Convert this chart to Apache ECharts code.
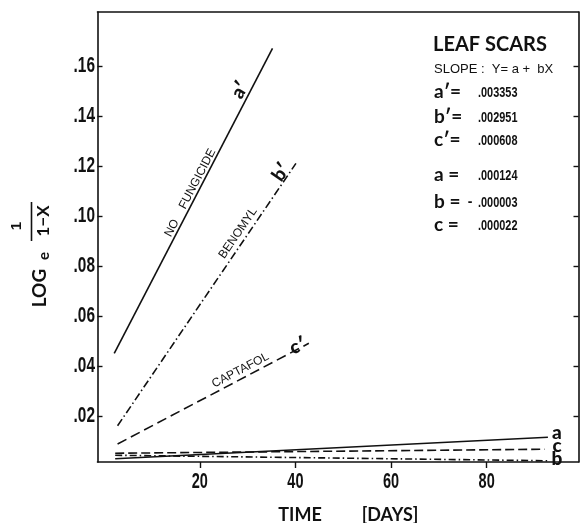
<!DOCTYPE html>
<html><head><meta charset="utf-8">
<script src="https://cdn.jsdelivr.net/npm/echarts@6/dist/echarts.min.js"></script>
<style>html,body{margin:0;padding:0;background:#fff}#c{width:580px;height:523px}</style>
</head><body><div id="c"></div>
<script>
// ---- data ----
const xTicks = [20, 40, 60, 80];
const yTicks = [0.02, 0.04, 0.06, 0.08, 0.10, 0.12, 0.14, 0.16];
const seriesNames = ["a'", "b'", "c'", "a", "b", "c"];
const aPrime = [[2.1, 0.045], [35.2, 0.167]];
const bPrime = [[2.8, 0.016], [40.1, 0.121]];
const cPrime = [[2.8, 0.0087], [42.8, 0.049]];
const aLow = [[2.3, 0.0028], [92.8, 0.0114]];
const bLow = [[2.3, 0.0042], [92.8, 0.0020]];
const cLow = [[2.3, 0.0050], [92.1, 0.0066]];
const lineLabels = ["NO    FUNGICIDE", "BENOMYL", "CAPTAFOL"];
const lineLabelPos = [[18.0, 0.1092], [28.0, 0.0931], [28.5, 0.0382]];
const lineLabelAngle = [62.5, 55.7, 27.7];
const curveTags = ["a′", "b′", "c′", "a", "c", "b"];
const curveTagPos = [[28.4, 0.1504], [37.0, 0.1175], [40.5, 0.0479], [94.7, 0.0131], [94.7, 0.0079], [94.7, 0.0027]];
const curveTagAngle = [60, 55, 20, 0, 0, 0];
const boxTitle = "LEAF SCARS";
const boxSubtitle = "SLOPE :  Y= a +  bX";
const slopeNames = ["a′=", "b′=", "c′=", "a =", "b =", "c ="];
const slopeValues = [".003353", ".002951", ".000608", ".000124", "-.000003", ".000022"];

// ---- chart ----
const el = document.getElementById('c');
const chart = echarts.init(el, null, {renderer: 'canvas'});
const INK = '#111';
const SANS = '"Liberation Sans",Arial,sans-serif';
const GEO = 'Lato,"Open Sans",sans-serif';
const XMIN = -1.4, XMAX = 99.2, YMIN = 0.0015, YMAX = 0.1816;

function mkLine(name, data, type) {
  return {
    name: name, type: 'line', data: data, symbol: 'none', animation: false,
    lineStyle: {color: INK, width: 1.6, type: type}, z: 3
  };
}

chart.setOption({
  backgroundColor: '#fff',
  animation: false,
  grid: {left: 97.5, right: 1.5, top: 12, bottom: 61, containLabel: false},
  xAxis: [{
    type: 'value', min: XMIN, max: XMAX, position: 'bottom',
    axisLine: {show: true, onZero: false, lineStyle: {color: INK, width: 1.6}},
    axisTick: {show: true, inside: false, length: 6, customValues: xTicks, lineStyle: {color: INK, width: 1.4}},
    axisLabel: {show: false},
    splitLine: {show: false}
  }, {
    type: 'value', min: XMIN, max: XMAX, position: 'top',
    axisLine: {show: true, onZero: false, lineStyle: {color: INK, width: 1.6}},
    axisTick: {show: false}, axisLabel: {show: false}, splitLine: {show: false}
  }],
  yAxis: [{
    type: 'value', min: YMIN, max: YMAX, position: 'left',
    axisLine: {show: true, onZero: false, lineStyle: {color: INK, width: 1.6}},
    axisTick: {show: true, inside: true, length: 5, customValues: yTicks, lineStyle: {color: INK, width: 1.4}},
    axisLabel: {show: false},
    splitLine: {show: false}
  }, {
    type: 'value', min: YMIN, max: YMAX, position: 'right',
    axisLine: {show: true, onZero: false, lineStyle: {color: INK, width: 1.6}},
    axisTick: {show: true, inside: true, length: 5, customValues: yTicks, lineStyle: {color: INK, width: 1.4}},
    axisLabel: {show: false}, splitLine: {show: false}
  }],
  series: [
    mkLine(seriesNames[0], aPrime, 'solid'),
    mkLine(seriesNames[1], bPrime, [8, 3, 1.5, 3]),
    mkLine(seriesNames[2], cPrime, [10, 5]),
    mkLine(seriesNames[3], aLow, 'solid'),
    mkLine(seriesNames[4], bLow, [7, 3, 1.5, 3]),
    mkLine(seriesNames[5], cLow, [9, 4])
  ]
});

const P = (p) => chart.convertToPixel({xAxisIndex: 0, yAxisIndex: 0}, p);
const D2R = Math.PI / 180;
const g = [];
// condensed tick labels (axis-driven positions)
xTicks.forEach(v => {
  const p = P([v, YMIN]);
  g.push({type: 'text', x: p[0], y: p[1] + 20, scaleX: 0.66,
    style: {text: String(v), fill: INK, font: 'bold 22px ' + SANS, align: 'center', verticalAlign: 'middle'}});
});
yTicks.forEach(v => {
  const p = P([XMIN, v]);
  g.push({type: 'text', x: p[0] - 2.5, y: p[1], scaleX: 0.7,
    style: {text: v.toFixed(2).replace(/^0/, ''), fill: INK, font: 'bold 22px ' + SANS, align: 'right', verticalAlign: 'middle'}});
});
lineLabels.forEach((t, i) => {
  const p = P(lineLabelPos[i]);
  g.push({type: 'text', x: p[0], y: p[1], rotation: lineLabelAngle[i] * D2R,
    style: {text: t, fill: INK, font: '12px ' + SANS, align: 'center', verticalAlign: 'middle'}});
});
curveTags.forEach((t, i) => {
  const p = P(curveTagPos[i]);
  g.push({type: 'text', x: p[0], y: p[1], rotation: curveTagAngle[i] * D2R,
    style: {text: t, fill: INK, font: '900 19px ' + GEO, align: 'center', verticalAlign: 'middle'}});
});
// info box
g.push({type: 'text', x: 433, y: 45, style: {text: boxTitle, fill: INK, font: 'bold 20px ' + GEO, align: 'left', verticalAlign: 'middle'}});
g.push({type: 'text', x: 434, y: 69, style: {text: boxSubtitle, fill: INK, font: '13px ' + SANS, align: 'left', verticalAlign: 'middle'}});
const rowY = [92, 117, 140, 175, 202, 225];
slopeNames.forEach((t, i) => {
  g.push({type: 'text', x: 434, y: rowY[i], style: {text: t, fill: INK, font: 'bold 19px ' + GEO, align: 'left', verticalAlign: 'middle'}});
  let v = slopeValues[i];
  if (v.charAt(0) === '-') {
    g.push({type: 'text', x: 470, y: rowY[i], style: {text: '-', fill: INK, font: 'bold 14px ' + SANS, align: 'center', verticalAlign: 'middle'}});
    v = v.slice(1);
  }
  g.push({type: 'text', x: 478, y: rowY[i] + 1, scaleX: 0.78, style: {text: v, fill: INK, font: 'bold 14px ' + SANS, align: 'left', verticalAlign: 'middle'}});
});
// x-axis title
g.push({type: 'text', x: 300, y: 515, style: {text: 'TIME', fill: INK, font: 'bold 18px ' + GEO, align: 'center', verticalAlign: 'middle'}});
g.push({type: 'text', x: 390, y: 515, style: {text: '[DAYS]', fill: INK, font: 'bold 18px ' + GEO, align: 'center', verticalAlign: 'middle'}});
// y-axis title (rotated)
const R = Math.PI / 2;
g.push({type: 'text', x: 40, y: 288, rotation: R, style: {text: 'LOG', fill: INK, font: 'bold 19px ' + GEO, align: 'center', verticalAlign: 'middle'}});
g.push({type: 'text', x: 44, y: 256, rotation: R, style: {text: 'e', fill: INK, font: 'bold 15px ' + GEO, align: 'center', verticalAlign: 'middle'}});
g.push({type: 'text', x: 17, y: 226, rotation: R, style: {text: '1', fill: INK, font: 'bold 15px ' + SANS, align: 'center', verticalAlign: 'middle'}});
g.push({type: 'line', shape: {x1: 31.5, y1: 202, x2: 31.5, y2: 241}, style: {stroke: INK, lineWidth: 1.6}});
g.push({type: 'text', x: 44, y: 221, rotation: R, style: {text: '1−X', fill: INK, font: 'bold 17px ' + GEO, align: 'center', verticalAlign: 'middle'}});
chart.setOption({graphic: g});
</script>
</body></html>
